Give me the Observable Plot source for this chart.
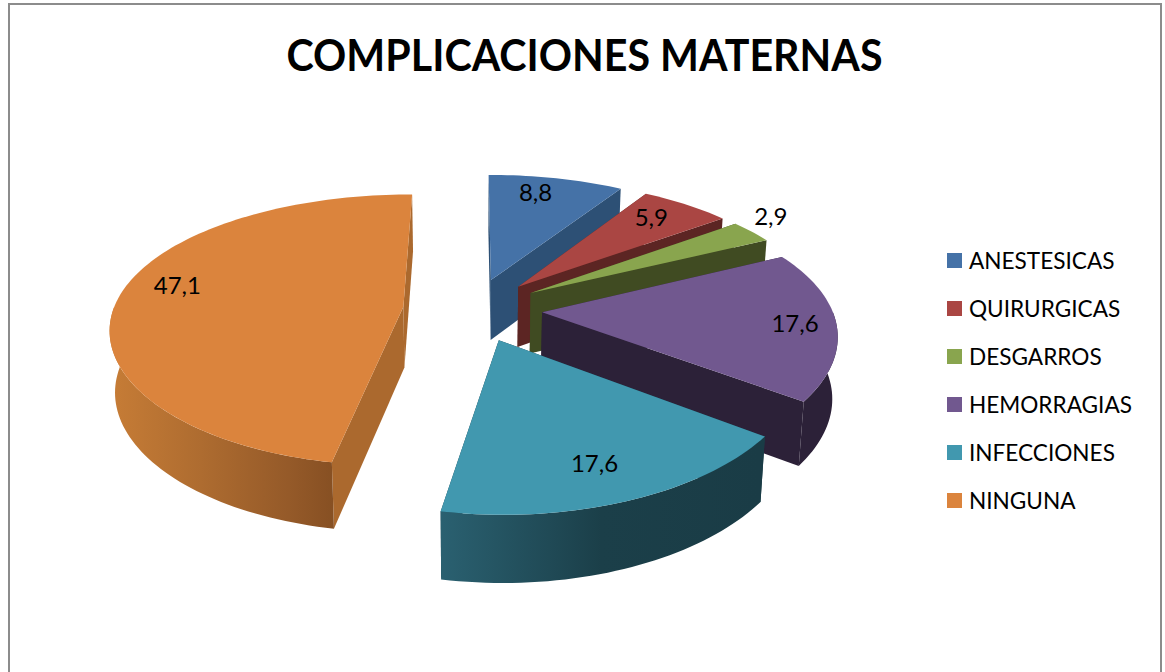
<!DOCTYPE html>
<html lang="es">
<head>
<meta charset="utf-8">
<script src="https://cdn.jsdelivr.net/npm/d3@7"></script>
<script src="https://cdn.jsdelivr.net/npm/@observablehq/plot@0.6"></script>
<style>
  html, body { margin: 0; padding: 0; background: #fff; }
  #page { position: relative; width: 1165px; height: 672px; overflow: hidden; font-family: Lato, sans-serif; color: #000; }
  #frame { position: absolute; left: 8px; top: 3px; width: 1154px; height: 690px; border: 2px solid #8c8c8c; box-sizing: border-box; }
  #title { position: absolute; left: 0; width: 1169px; top: 25px; text-align: center; font-weight: 700; font-size: 44px; line-height: 58px; transform: scaleX(0.936); }
  #chart { position: absolute; left: 0; top: 0; }
  #legend { position: absolute; left: 947px; top: 236px; }
  .item { display: flex; align-items: center; height: 48px; font-size: 22.6px; }
  .item i { display: block; width: 15px; height: 15px; margin-right: 7px; }
</style>
</head>
<body>
<div id="page">
  <div id="frame"></div>
  <div id="chart"></div>
  <div id="title">COMPLICACIONES MATERNAS</div>
  <div id="legend"></div>
</div>
<script>
const categories = ["ANESTESICAS", "QUIRURGICAS", "DESGARROS", "HEMORRAGIAS", "INFECCIONES", "NINGUNA"];
const values = [8.8, 5.9, 2.9, 17.6, 17.6, 47.1];
const valueLabels = ["8,8", "5,9", "2,9", "17,6", "17,6", "47,1"];
const topColors = ["#4572A7", "#AA4643", "#89A54E", "#71588F", "#4198AF", "#DB843D"];
const faceColors = ["#2D5075", "#5C2523", "#404B22", "#2C2138", "#1A3C46", "#AB692E"];
const wallColors = ["#2D5075", "#5C2523", "#404B22", "#2C2138", "url(#wallTeal)", "url(#wallOrange)"];
const paintOrder = [0, 1, 2, 3, 5, 4];

// Projection of the exploded 3-D pie
const view = {cx: 472, cy: 309, R: 290, Ry: 132.5, kx: 0.145, ky: 0.172, explode: 0.24};
const labelAngle = [13, 41, 55, 96, 160, 281];
const labelRadius = [0.82, 0.8, 1.15, 0.86, 0.8, 0.82];

const rad = Math.PI / 180;
const total = d3.sum(values);
const cum = d3.cumsum(values);
const slices = values.map((v, i) => ({i, a0: (cum[i] - v) / total * 360, a1: cum[i] / total * 360}));

function project(mid, angle, r, lift) {
  const u = r * Math.sin(angle * rad) + view.explode * Math.sin(mid * rad);
  const v = r * Math.cos(angle * rad) + view.explode * Math.cos(mid * rad);
  const sx = 1 / (1 + view.kx * v);
  const sy = 1 / (1 + view.ky * v);
  const x = view.cx + view.R * u * sx;
  const y = view.cy - view.Ry * v * sy;
  if (!lift) return {x, y};
  return {x: view.cx + (x - view.cx) * 0.985, y: y + 61 + (sy - 1) * 27};
}
function arc(mid, a0, a1, lift) {
  const n = Math.max(2, Math.ceil((a1 - a0) / 1.5));
  return d3.range(n + 1).map(j => project(mid, a0 + (a1 - a0) * j / n, 1, lift));
}
const poly = (pts, fill) => Plot.line([...pts, pts[0]], {x: "x", y: "y", fill, stroke: "none"});

const marks = [() => {
  const ns = "http://www.w3.org/2000/svg";
  const defs = document.createElementNS(ns, "defs");
  const grad = (id, x1, x2, stops) => {
    const g = document.createElementNS(ns, "linearGradient");
    g.setAttribute("id", id);
    g.setAttribute("gradientUnits", "userSpaceOnUse");
    g.setAttribute("x1", x1); g.setAttribute("x2", x2); g.setAttribute("y1", 0); g.setAttribute("y2", 0);
    for (const [o, c] of stops) {
      const s = document.createElementNS(ns, "stop");
      s.setAttribute("offset", o); s.setAttribute("stop-color", c);
      g.appendChild(s);
    }
    defs.appendChild(g);
  };
  grad("wallOrange", 112, 332, [[0, "#C67C36"], [0.4, "#AE6C30"], [0.8, "#955A29"], [1, "#875023"]]);
  grad("wallTeal", 442, 760, [[0, "#2A6070"], [0.5, "#1B3F49"], [1, "#1A3C46"]]);
  return defs;
}];

for (const idx of paintOrder) {
  const {i, a0, a1} = slices[idx];
  const mid = (a0 + a1) / 2;
  const radial = a => [project(mid, 0, 0), project(mid, a, 1), project(mid, a, 1, true), project(mid, 0, 0, true)];
  const faces = [a0, a1].sort((p, q) => Math.cos(q * rad) - Math.cos(p * rad));
  for (const a of faces) marks.push(poly(radial(a), faceColors[i]));
  const w0 = Math.max(a0, 90), w1 = Math.min(a1, 270);
  if (w1 > w0) {
    marks.push(poly([...arc(mid, w0, w1), ...arc(mid, w0, w1, true).reverse()], wallColors[i]));
  }
  marks.push(poly([project(mid, 0, 0), ...arc(mid, a0, a1)], topColors[i]));
}

const labels = slices.map(({i, a0, a1}) => ({
  text: valueLabels[i],
  ...project((a0 + a1) / 2, labelAngle[i], labelRadius[i])
}));
marks.push(Plot.text(labels, {x: "x", y: "y", text: "text", fontSize: 24, fontFamily: "Lato, sans-serif", fill: "#000"}));

const chart = Plot.plot({
  width: 1165, height: 672, margin: 0,
  x: {axis: null, domain: [0, 1165], range: [0, 1165]},
  y: {axis: null, domain: [0, 672], range: [0, 672]},
  style: {background: "transparent"},
  marks
});
document.getElementById("chart").appendChild(chart);

const legend = d3.select("#legend").selectAll("div").data(categories).join("div").attr("class", "item");
legend.append("i").style("background", (d, i) => topColors[i]);
legend.append("span").text(d => d);
</script>
</body>
</html>
